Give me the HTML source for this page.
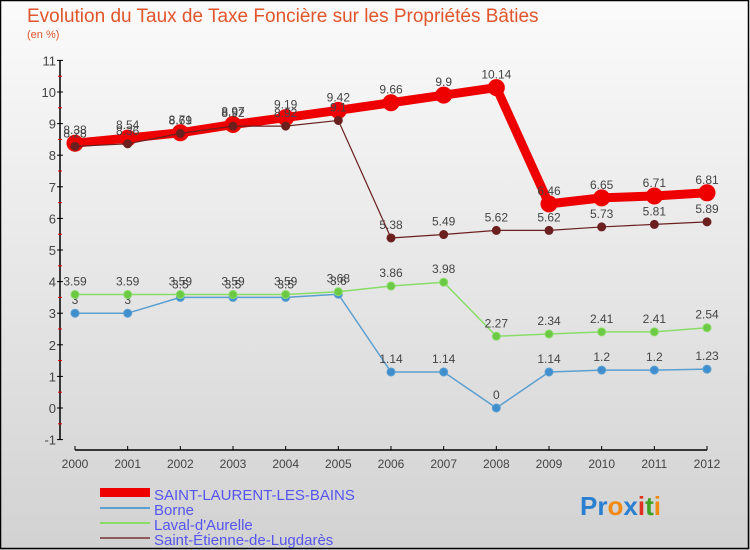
<!DOCTYPE html>
<html><head><meta charset="utf-8"><style>
body{margin:0}
#c{position:relative;width:750px;height:550px;overflow:hidden;background:linear-gradient(#fbfbfb,#d2d2d2);font-family:"Liberation Sans",sans-serif}
svg text{font-family:"Liberation Sans",sans-serif}
</style></head><body>
<div id="c">
<svg id="s" width="750" height="550">
<rect x="0.5" y="0.5" width="748" height="548" fill="none" stroke="#000" stroke-width="1.5"/>
<text x="27" y="22" font-size="19" fill="#e0552b">Evolution du Taux de Taxe Foncière sur les Propriétés Bâties</text>
<text x="27" y="38" font-size="11" fill="#e0552b">(en %)</text>
<g id="axes"></g><g id="series"></g>
<g>
<rect x="100" y="488" width="50" height="9" fill="#e00"/>
<text x="154" y="500" font-size="15" fill="#5555ee">SAINT-LAURENT-LES-BAINS</text>
<rect x="100" y="507" width="50" height="2" fill="#5a9fd0"/>
<text x="154" y="515" font-size="15" fill="#5555ee">Borne</text>
<rect x="100" y="522" width="50" height="2" fill="#88dd66"/>
<text x="154" y="530" font-size="15" fill="#5555ee">Laval-d'Aurelle</text>
<rect x="100" y="537" width="50" height="2" fill="#8b5a5a"/>
<text x="154" y="545" font-size="15" fill="#5555ee">Saint-Étienne-de-Lugdarès</text>
</g>
<text x="580" y="515" font-size="26" font-weight="bold"><tspan fill="#2a7fd0">Pr</tspan><tspan fill="#f08a10">o</tspan><tspan fill="#2a7fd0">x</tspan><tspan fill="#e03020">i</tspan><tspan fill="#40a020">t</tspan><tspan fill="#f08a10">i</tspan></text>
</svg></div>
<script>
const years=[2000,2001,2002,2003,2004,2005,2006,2007,2008,2009,2010,2011,2012];
const yTicks=[-1,0,1,2,3,4,5,6,7,8,9,10,11];
const stLaurent=[8.38,8.54,8.71,8.97,9.19,9.42,9.66,9.9,10.14,6.46,6.65,6.71,6.81];
const borne=[3,3,3.5,3.5,3.5,3.6,1.14,1.14,0,1.14,1.2,1.2,1.23];
const laval=[3.59,3.59,3.59,3.59,3.59,3.68,3.86,3.98,2.27,2.34,2.41,2.41,2.54];
const stEtienne=[8.28,8.36,8.69,8.92,8.92,9.1,5.38,5.49,5.62,5.62,5.73,5.81,5.89];
const NS="http://www.w3.org/2000/svg";
const X=i=>75+(707-75)*i/(years.length-1);
const Y=v=>408-31.6*v;
function mk(t,a,p){const e=document.createElementNS(NS,t);for(const k in a)e.setAttribute(k,a[k]);p.appendChild(e);return e;}
const ax=document.getElementById('axes');
let e=mk('line',{x1:60,y1:Y(11),x2:60,y2:Y(-1),stroke:'#000','stroke-width':1.5},ax);


e=mk('line',{x1:75,y1:450,x2:707,y2:450,stroke:'#000','stroke-width':1.5},ax);


yTicks.forEach(v=>{
 mk('line',{x1:57,y1:Y(v),x2:63,y2:Y(v),stroke:'#000'},ax);
 if(v<11){mk('line',{x1:58,y1:Y(v+0.5),x2:62,y2:Y(v+0.5),stroke:'#e00'},ax);}
 const t=mk('text',{x:56,y:Y(v)+5,'font-size':13,fill:'#444','text-anchor':'end'},ax);t.textContent=v;
 
 
});
years.forEach((y,i)=>{
 mk('line',{x1:X(i),y1:446,x2:X(i),y2:450,stroke:'#000'},ax);
 const t=mk('text',{x:X(i),y:468,'font-size':12,fill:'#444','text-anchor':'middle'},ax);t.textContent=y;
 
 
});
const sg=document.getElementById('series');
function draw(vals,color,w,r,dot,name){
 const g=mk('g',{},sg);
 
 
 const p=mk('polyline',{points:vals.map((v,i)=>X(i)+','+Y(v)).join(' '),fill:'none',stroke:color,'stroke-width':w,'stroke-linejoin':'round'},g);
 vals.forEach((v,i)=>{
  const c=mk('circle',{cx:X(i),cy:Y(v),r:r,fill:dot,stroke:color,'stroke-width':1},g);
  
  
  const t=mk('text',{x:X(i),y:Y(v)-9,'font-size':12,fill:'#444','text-anchor':'middle'},g);t.textContent=v;
 });
}
draw(borne,'#5a9fd0',1.5,4,'#3f8fcf','series-borne');
draw(laval,'#88dd66',1.5,4,'#6cc944','series-laval');
draw(stLaurent,'#ee0000',9,8,'#ee0000','series-saint-laurent');
draw(stEtienne,'#6b2020',1.2,4,'#6b1f1f','series-saint-etienne');
</script>
</body></html>
